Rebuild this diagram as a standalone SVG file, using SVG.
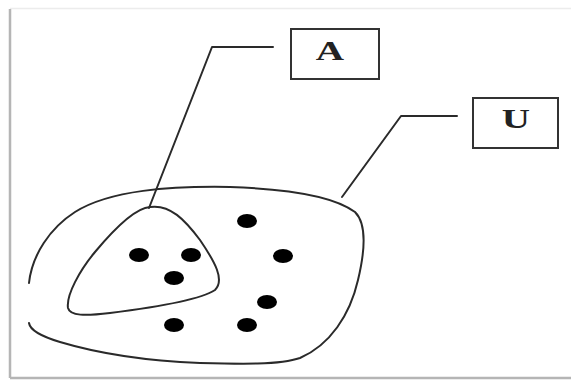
<svg xmlns="http://www.w3.org/2000/svg" width="571" height="381" viewBox="0 0 571 381">
<style>
.ln{fill:none;stroke:#2a2a2a;stroke-width:2;stroke-linejoin:round;stroke-linecap:round}
.box{fill:#fff;stroke:#333;stroke-width:2}
.lbl{font-family:"Liberation Serif","Times New Roman",serif;font-size:27px;font-weight:bold;fill:#222;text-anchor:middle}
.dot{fill:#000}
</style>
<rect width="571" height="381" fill="#fff"/>
<g id="frame">
<line x1="10" y1="8.5" x2="571" y2="8.5" stroke="#ececec" stroke-width="1.5"/>
<line x1="10" y1="9" x2="10" y2="378" stroke="#b5b5b5" stroke-width="2.5"/>
<line x1="10" y1="378" x2="571" y2="378" stroke="#b5b5b5" stroke-width="2.5"/>
</g>
<g id="set-U">
<path class="ln" d="M29,283 C32,255 50,228 75,212 C110,190 170,186 230,187 C290,189 335,197 355,212 C368,225 364,255 358,280 C350,315 330,345 300,358 C280,365 240,364 200,363 C150,361 100,354 60,342 C40,336 30,330 29,323"/>
</g>
<g id="set-A">
<path class="ln" d="M150,207 C170,204 185,220 200,240 C215,262 225,280 215,290 C200,300 150,308 110,313 C85,316 70,316 68,308 C66,295 80,270 95,252 C115,228 135,208 150,207 Z"/>
</g>
<g id="elements">
<ellipse class="dot" cx="247" cy="221" rx="10" ry="7"/>
<ellipse class="dot" cx="139" cy="255" rx="10" ry="7"/>
<ellipse class="dot" cx="191" cy="255" rx="10" ry="7"/>
<ellipse class="dot" cx="283" cy="256" rx="10" ry="7"/>
<ellipse class="dot" cx="174" cy="278" rx="10" ry="7"/>
<ellipse class="dot" cx="267" cy="302" rx="10" ry="7"/>
<ellipse class="dot" cx="174" cy="325" rx="10" ry="7"/>
<ellipse class="dot" cx="247" cy="325" rx="10" ry="7"/>
</g>
<g id="connectors">
<polyline class="ln" points="273,47 212,47 149,208"/>
<polyline class="ln" points="457,116 401,116 342,197"/>
</g>
<g id="label-A">
<rect class="box" x="291" y="29" width="88" height="50"/>
<text class="lbl" transform="translate(330,60) scale(1.45,1)" x="0" y="0">A</text>
</g>
<g id="label-U">
<rect class="box" x="473" y="98" width="85" height="50"/>
<text class="lbl" transform="translate(516,128) scale(1.45,1)" x="0" y="0">U</text>
</g>
</svg>
